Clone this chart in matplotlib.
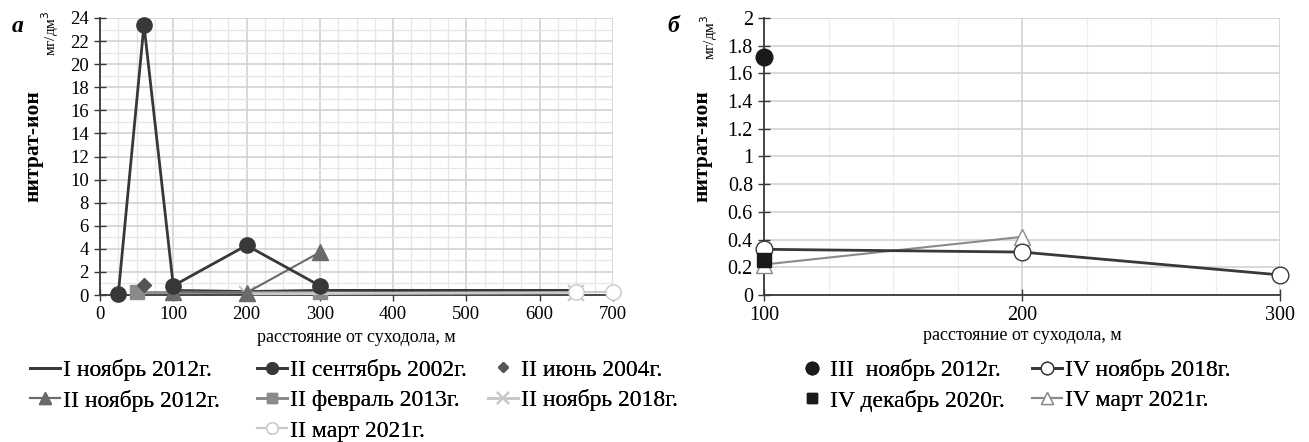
import numpy as np
import matplotlib.pyplot as plt
from matplotlib.ticker import MultipleLocator, FormatStrFormatter

plt.rcParams['font.family'] = ['Liberation Serif', 'DejaVu Serif']

# ---- panel a data ----
x_i_nov2012 = [100, 200, 300, 650]
y_i_nov2012 = [0.4, 0.3, 0.4, 0.4]
x_ii_sep2002 = [25, 60, 100, 200, 300]
y_ii_sep2002 = [0.1, 23.4, 0.8, 4.3, 0.8]
x_ii_jun2004 = [60]
y_ii_jun2004 = [0.9]
x_ii_nov2012 = [100, 200, 300]
y_ii_nov2012 = [0.3, 0.2, 3.7]
x_ii_feb2013 = [50, 300]
y_ii_feb2013 = [0.3, 0.3]
x_ii_nov2018 = [200, 650]
y_ii_nov2018 = [0.1, 0.2]
x_ii_mar2021 = [650, 700]
y_ii_mar2021 = [0.3, 0.3]

# ---- panel b data ----
x_iii_nov2012 = [100]
y_iii_nov2012 = [1.72]
x_iv_nov2018 = [100, 200, 300]
y_iv_nov2018 = [0.33, 0.31, 0.145]
x_iv_dec2020 = [100]
y_iv_dec2020 = [0.25]
x_iv_mar2021 = [100, 200]
y_iv_mar2021 = [0.22, 0.42]

dark = '#383838'
mid = '#6a6a6a'
grey = '#8a8a8a'
light = '#c8c8c8'

W, H = 1309, 442
fig = plt.figure(figsize=(W / 100, H / 100), dpi=100)
ax1 = fig.add_axes([100/W, 1 - 295/H, (613 - 100)/W, (295 - 18)/H])
ax2 = fig.add_axes([764/W, 1 - 295/H, (1280 - 764)/W, (295 - 18)/H])

# panel a
l_i12 = ax1.plot(x_i_nov2012, y_i_nov2012, color=dark, lw=2, zorder=3)[0]
l_f13 = ax1.plot(x_ii_feb2013, y_ii_feb2013, color=grey, lw=2, marker='s', ms=10, zorder=3)[0]
l_n18 = ax1.plot(x_ii_nov2018, y_ii_nov2018, color=light, lw=2, marker='x', ms=12, mew=1.5, zorder=3)[0]
l_m21 = ax1.plot(x_ii_mar2021, y_ii_mar2021, color=light, lw=1.5, marker='o', ms=11, mfc='white', mec=light, zorder=3)[0]
l_n12 = ax1.plot(x_ii_nov2012, y_ii_nov2012, color=mid, lw=1.5, marker='^', ms=11, zorder=4)[0]
l_j04 = ax1.plot(x_ii_jun2004, y_ii_jun2004, color='#555555', lw=0, marker='D', ms=7, zorder=4)[0]
l_s02 = ax1.plot(x_ii_sep2002, y_ii_sep2002, color=dark, lw=2, marker='o', ms=11, zorder=5)[0]

ax1.set_xlim(0, 700)
ax1.set_ylim(0, 24)
ax1.xaxis.set_major_locator(MultipleLocator(100))
ax1.xaxis.set_minor_locator(MultipleLocator(25))
ax1.yaxis.set_major_locator(MultipleLocator(2))
ax1.yaxis.set_minor_locator(MultipleLocator(1))
ax1.grid(which='major', color='#d2d2d2', lw=1.2)
ax1.grid(which='minor', color='#e6e6e6', lw=0.9)
ax1.tick_params(which='major', direction='inout', length=8, width=1, color=dark, labelsize=13.5, pad=4)
ax1.tick_params(which='minor', length=0)

# panel b
l_bm21 = ax2.plot(x_iv_mar2021, y_iv_mar2021, color=grey, lw=1.5, marker='^', ms=12, mfc='white', mec=grey, zorder=3)[0]
l_bn18 = ax2.plot(x_iv_nov2018, y_iv_nov2018, color=dark, lw=2, marker='o', ms=12, mfc='white', mec=dark, mew=1, zorder=4)[0]
l_bd20 = ax2.plot(x_iv_dec2020, y_iv_dec2020, color='#1a1a1a', lw=0, marker='s', ms=10, zorder=5)[0]
l_bn12 = ax2.plot(x_iii_nov2012, y_iii_nov2012, color='#1a1a1a', lw=0, marker='o', ms=12, zorder=5)[0]

ax2.set_xlim(100, 300)
ax2.set_ylim(0, 2)
ax2.xaxis.set_major_locator(MultipleLocator(100))
ax2.xaxis.set_minor_locator(MultipleLocator(25))
ax2.yaxis.set_major_locator(MultipleLocator(0.2))
ax2.yaxis.set_major_formatter(FormatStrFormatter('%g'))
ax2.grid(which='major', color='#d2d2d2', lw=1.2)
ax2.grid(which='minor', axis='x', color='#eeeeee', lw=0.9)
ax2.tick_params(which='major', direction='inout', length=8, width=1, color=dark, labelsize=14.5, pad=4)
ax2.tick_params(which='minor', length=0)

for ax in (ax1, ax2):
    ax.set_axisbelow(True)
    for s in ('top', 'right'):
        ax.spines[s].set_visible(False)
    for s in ('left', 'bottom'):
        ax.spines[s].set_color(dark)
        ax.spines[s].set_linewidth(1.3)
        ax.spines[s].set_zorder(2.5)
    for art in ax.lines:
        art.set_clip_on(False)

# labels
fig.text(356/W, 1 - 337/H, 'расстояние от суходола, м', ha='center', va='center', fontsize=13)
fig.text(1022/W, 1 - 335/H, 'расстояние от суходола, м', ha='center', va='center', fontsize=13)
fig.text(33/W, 1 - 146/H, 'нитрат-ион', rotation=90, ha='center', va='center', fontsize=15.5, fontweight='bold')
fig.text(50/W, 1 - 33/H, 'мг/дм$^3$', rotation=90, ha='center', va='center', fontsize=11)
fig.text(702/W, 1 - 146/H, 'нитрат-ион', rotation=90, ha='center', va='center', fontsize=15.5, fontweight='bold')
fig.text(709/W, 1 - 37/H, 'мг/дм$^3$', rotation=90, ha='center', va='center', fontsize=11)
fig.text(18/W, 1 - 27/H, 'а', ha='center', va='center', fontsize=17, fontweight='bold', style='italic')
fig.text(673/W, 1 - 27/H, 'б', ha='center', va='center', fontsize=17, fontweight='bold', style='italic')

# legends, one column each
leg_kw = dict(loc='upper left', frameon=False, fontsize=17, handlelength=1.27, handletextpad=0.12,
              labelspacing=0.37, markerscale=0.75, borderpad=0, borderaxespad=0)
legend_cols = [
    (30, [l_i12, l_n12], ['I ноябрь 2012г.', 'II ноябрь 2012г.']),
    (257, [l_s02, l_f13, l_m21], ['II сентябрь 2002г.', 'II февраль 2013г.', 'II март 2021г.']),
    (488, [l_j04, l_n18], ['II июнь 2004г.', 'II ноябрь 2018г.']),
    (797, [l_bn12, l_bd20], ['III  ноябрь 2012г.', 'IV декабрь 2020г.']),
    (1032, [l_bn18, l_bm21], ['IV ноябрь 2018г.', 'IV март 2021г.']),
]
for x0, handles, labels in legend_cols:
    lg = fig.legend(handles, labels, bbox_to_anchor=(x0/W, 1 - 359/H), **leg_kw)
    fig.add_artist(lg)

fig.savefig('out.png', dpi=100)
